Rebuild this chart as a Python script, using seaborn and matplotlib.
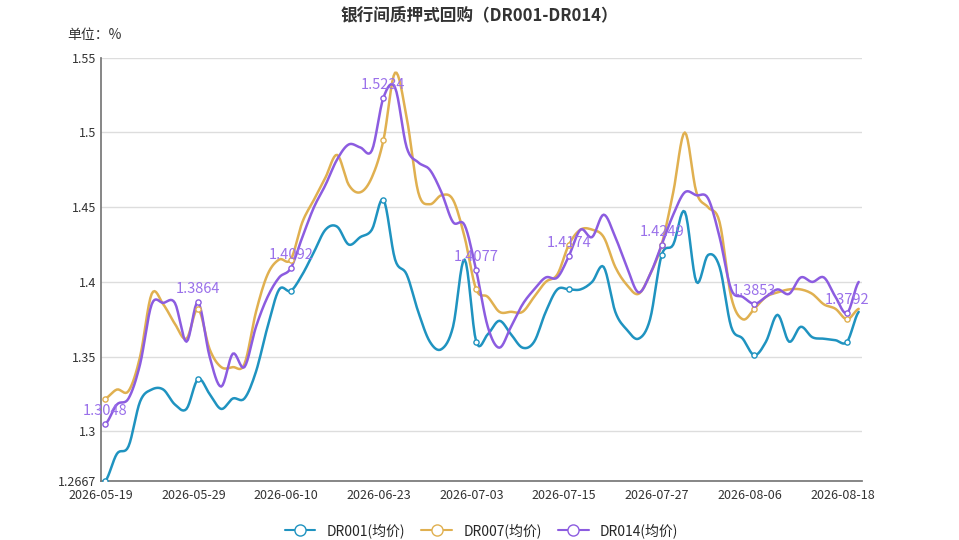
import numpy as np
import pandas as pd
import matplotlib.pyplot as plt
import seaborn as sns

sns.set_theme(style="white")
plt.rcParams["font.family"] = ["Noto Sans CJK SC", "DejaVu Sans"]

tick_labels = ["2026-05-19", "2026-05-29", "2026-06-10", "2026-06-23", "2026-07-03",
               "2026-07-15", "2026-07-27", "2026-08-06", "2026-08-18"]

dr001 = [1.2667, 1.285, 1.29, 1.32, 1.328, 1.328, 1.318, 1.315, 1.335, 1.325, 1.315, 1.322, 1.322,
         1.34, 1.37, 1.395, 1.394, 1.405, 1.42, 1.435, 1.437, 1.425, 1.43, 1.435, 1.455, 1.415,
         1.405, 1.38, 1.36, 1.355, 1.37, 1.415, 1.36, 1.365, 1.374, 1.365, 1.356, 1.36, 1.38,
         1.395, 1.395, 1.395, 1.4, 1.41, 1.38, 1.368, 1.362, 1.375, 1.418, 1.425, 1.447, 1.4,
         1.418, 1.41, 1.37, 1.362, 1.351, 1.36, 1.378, 1.36, 1.37, 1.363, 1.362, 1.361, 1.36, 1.38]
dr007 = [1.322, 1.328, 1.327, 1.35, 1.392, 1.385, 1.372, 1.362, 1.382, 1.355, 1.343, 1.343, 1.345,
         1.38, 1.405, 1.415, 1.415, 1.44, 1.455, 1.47, 1.485, 1.465, 1.46, 1.47, 1.495, 1.54,
         1.51, 1.46, 1.452, 1.458, 1.455, 1.43, 1.395, 1.39, 1.38, 1.38, 1.38, 1.39, 1.4, 1.405,
         1.425, 1.435, 1.435, 1.43, 1.41, 1.398, 1.392, 1.405, 1.425, 1.46, 1.5, 1.46, 1.45,
         1.44, 1.39, 1.375, 1.382, 1.39, 1.393, 1.395, 1.395, 1.392, 1.385, 1.382, 1.375, 1.382]
dr014 = [1.3048, 1.318, 1.322, 1.345, 1.385, 1.386, 1.386, 1.36, 1.3864, 1.35, 1.33, 1.352, 1.343,
         1.37, 1.39, 1.403, 1.4092, 1.43, 1.45, 1.465, 1.482, 1.492, 1.49, 1.488, 1.5234, 1.53,
         1.49, 1.48, 1.475, 1.46, 1.44, 1.438, 1.4077, 1.37, 1.356, 1.37, 1.385, 1.395, 1.403,
         1.403, 1.4174, 1.435, 1.43, 1.445, 1.43, 1.41, 1.393, 1.405, 1.4249, 1.445, 1.46, 1.458,
         1.456, 1.43, 1.395, 1.39, 1.3853, 1.39, 1.395, 1.392, 1.403, 1.4, 1.403, 1.39, 1.3792, 1.4]

series = {"DR001(均价)": (dr001, "#1f93c0"),
          "DR007(均价)": (dr007, "#e0b050"),
          "DR014(均价)": (dr014, "#8c5ce0")}


def smooth(y, k=8):
    # Catmull-Rom through the points
    y = np.asarray(y, float)
    p = np.concatenate([[y[0]], y, [y[-1]]])
    xs, ys = [], []
    for i in range(len(y) - 1):
        t = np.linspace(0, 1, k, endpoint=False)
        p0, p1, p2, p3 = p[i], p[i + 1], p[i + 2], p[i + 3]
        v = 0.5 * (2 * p1 + (-p0 + p2) * t + (2 * p0 - 5 * p1 + 4 * p2 - p3) * t ** 2
                   + (-p0 + 3 * p1 - 3 * p2 + p3) * t ** 3)
        xs.extend(i + t)
        ys.extend(v)
    xs.append(len(y) - 1)
    ys.append(y[-1])
    return np.array(xs), np.array(ys)


fig, ax = plt.subplots(figsize=(9.59, 5.40), dpi=100)
fig.subplots_adjust(left=0.105, right=0.899, top=0.893, bottom=0.109)

mark_idx = np.arange(0, 66, 8)
for name, (vals, color) in series.items():
    xs, ys = smooth(vals)
    df = pd.DataFrame({"x": xs, "y": ys})
    sns.lineplot(data=df, x="x", y="y", ax=ax, color=color, lw=1.8, label=None)
    ax.scatter(mark_idx, np.array(vals)[mark_idx], s=14, facecolor="white",
               edgecolor=color, lw=1, zorder=5)

for i in mark_idx:
    ax.text(i, dr014[i] + 0.004, f"{dr014[i]:g}", color="#9a70ea", fontsize=10.5,
            ha="center", va="bottom", zorder=6)

for name, (vals, color) in series.items():
    ax.plot([], [], color=color, marker="o", mfc="white", ms=8, lw=1.5, label=name)

ax.set_xlim(-0.3, 65.3)
ax.set_ylim(1.2667, 1.55)
ax.set_yticks([1.2667, 1.3, 1.35, 1.4, 1.45, 1.5, 1.55])
ax.set_yticklabels(["1.2667", "1.3", "1.35", "1.4", "1.45", "1.5", "1.55"], fontsize=9, color="#333333")
ax.set_xticks(np.arange(0, 65, 8) - 0.4)
ax.set_xticklabels(tick_labels, fontsize=9, color="#333333")
ax.tick_params(axis="x", length=4, color="#666666", pad=2)
ax.tick_params(axis="y", length=0, pad=3)
ax.grid(axis="y", color="#dddddd", lw=1)
ax.set_xlabel("")
ax.set_ylabel("")
for s in ["top", "right"]:
    ax.spines[s].set_visible(False)
for s in ["left", "bottom"]:
    ax.spines[s].set_color("#777777")

fig.text(0.5, 0.972, "银行间质押式回购（DR001-DR014）", ha="center", va="center",
         fontsize=12, fontweight="bold", color="#333333")
fig.text(0.07, 0.935, "单位：%", ha="left", va="center", fontsize=10, color="#333333")

ax.legend(loc="upper center", bbox_to_anchor=(0.5, -0.07), ncol=3, frameon=False,
          fontsize=10, handlelength=2.2, columnspacing=1.2)

fig.savefig("out.png", dpi=100)
